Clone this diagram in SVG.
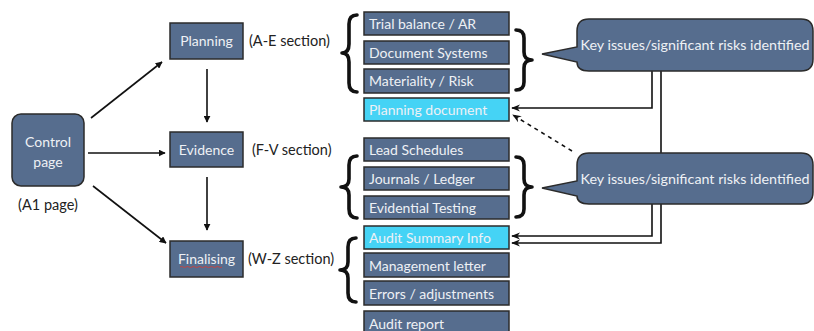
<svg xmlns="http://www.w3.org/2000/svg" width="814" height="331" viewBox="0 0 814 331">
<defs>
<marker id="ah" viewBox="0 0 10 10" refX="9" refY="5" markerWidth="7" markerHeight="7" orient="auto" markerUnits="userSpaceOnUse">
<path d="M0,0 L10,5 L0,10 Z" fill="#111"/>
</marker>
<marker id="ah2" viewBox="0 0 10 10" refX="9" refY="5" markerWidth="9" markerHeight="9" orient="auto" markerUnits="userSpaceOnUse">
<path d="M0,1 L10,5 L0,9 L3,5 Z" fill="#111"/>
</marker>
</defs>
<style>
.box{fill:#566d8e;stroke:#2b2b2b;stroke-width:1.5}
.hl{fill:#45d3f5;stroke:#2b2b2b;stroke-width:1.5}
.t{font-family:Lato,"Open Sans",sans-serif;fill:#eef1f5;font-size:14px}
.tl{font-family:Lato,"Open Sans",sans-serif;fill:#eef1f5;font-size:14px}
.co{font-family:Lato,"Open Sans",sans-serif;fill:#eef1f5;font-size:14.3px}
.lab{font-family:Lato,"Open Sans",sans-serif;fill:#222;font-size:14.5px}
.brace{fill:none;stroke:#111;stroke-width:3.6;stroke-linecap:round;stroke-linejoin:round}
.c{fill:none;stroke:#111;stroke-width:1.6}
</style>
<rect width="814" height="331" fill="#fff"/>

<g id="connectors">
<line class="c" x1="91" y1="118" x2="162" y2="62" marker-end="url(#ah)"/>
<line class="c" x1="88" y1="153" x2="165" y2="153" marker-end="url(#ah)"/>
<line class="c" x1="93" y1="186" x2="166" y2="243" marker-end="url(#ah)"/>
<line class="c" x1="207" y1="69" x2="207" y2="122" marker-end="url(#ah)"/>
<line class="c" x1="207" y1="177" x2="207" y2="230" marker-end="url(#ah)"/>
<polyline class="c" points="652,71 652,108 512,108" marker-end="url(#ah2)"/>
<polyline class="c" points="661,71 661,243 512,243" marker-end="url(#ah2)"/>
<polyline class="c" points="652,204 652,236 512,236" marker-end="url(#ah2)"/>
<line class="c" x1="572" y1="151" x2="513" y2="115" stroke-dasharray="4,4" marker-end="url(#ah2)"/>
</g>

<g id="control">
<rect class="box" x="12" y="114" width="72" height="72" rx="9"/>
<text class="t" x="48" y="147" text-anchor="middle" font-size="16.5">Control</text>
<text class="t" x="48" y="167" text-anchor="middle" font-size="16.5">page</text>
<text class="lab" x="48" y="210" text-anchor="middle">(A1 page)</text>
</g>

<g id="planning">
<rect class="box" x="170" y="23" width="73" height="36"/>
<text class="t" x="206.5" y="46" text-anchor="middle">Planning</text>
<text class="lab" x="249" y="46">(A-E section)</text>
</g>
<g id="evidence">
<rect class="box" x="170" y="132" width="73" height="35"/>
<text class="t" x="206.5" y="155" text-anchor="middle">Evidence</text>
<text class="lab" x="252" y="155">(F-V section)</text>
</g>
<g id="finalising">
<rect class="box" x="170" y="241" width="73" height="36"/>
<text class="t" x="206.5" y="264" text-anchor="middle">Finalising</text>
<path d="M180,267 q1.5,-1 3,0 t3,0 t3,0 t3,0 t3,0 t3,0 t3,0 t3,0 t3,0 t3,0 t3,0 t3,0 t3,0 t3,0" fill="none" stroke="#d0403a" stroke-width="0.9"/>
<text class="lab" x="248" y="264">(W-Z section)</text>
</g>

<g id="braces">
<path class="brace" d="M357,15 Q349,15 349,24 L349,44 Q349,53 342,53 Q349,53 349,62 L349,83 Q349,92 357,92"/>
<path class="brace" d="M516,30 Q524,30 524,38 L524,52 Q524,60 532,60 Q524,60 524,68 L524,82 Q524,90 516,90"/>
<path class="brace" d="M357,156 Q349,156 349,165 L349,179 Q349,187 341,187 Q349,187 349,195 L349,209 Q349,218 357,218"/>
<path class="brace" d="M516,157 Q524,157 524,165 L524,179 Q524,187 532,187 Q524,187 524,195 L524,209 Q524,217 516,217"/>
<path class="brace" d="M356,238 Q348,238 348,247 L348,262 Q348,270 340,270 Q348,270 348,278 L348,293 Q348,302 356,302"/>
</g>

<g id="trial">
<rect class="box" x="364" y="12" width="145" height="23"/>
<text class="tl" x="369" y="29">Trial balance / AR</text>
</g>
<g id="docsys">
<rect class="box" x="364" y="41" width="145" height="23"/>
<text class="tl" x="369" y="58">Document Systems</text>
</g>
<g id="materiality">
<rect class="box" x="364" y="69" width="145" height="24"/>
<text class="tl" x="369" y="86">Materiality / Risk</text>
</g>
<g id="plandoc">
<rect class="hl" x="364" y="98" width="145" height="23"/>
<text class="tl" x="369" y="115">Planning document</text>
</g>
<g id="lead">
<rect class="box" x="364" y="138" width="145" height="23"/>
<text class="tl" x="369" y="155">Lead Schedules</text>
</g>
<g id="journals">
<rect class="box" x="364" y="167" width="145" height="23"/>
<text class="tl" x="369" y="184">Journals / Ledger</text>
</g>
<g id="evidential">
<rect class="box" x="364" y="196" width="145" height="23"/>
<text class="tl" x="369" y="213">Evidential Testing</text>
</g>
<g id="auditsummary">
<rect class="hl" x="364" y="226" width="145" height="23"/>
<text class="tl" x="369" y="243">Audit Summary Info</text>
</g>
<g id="mgmt">
<rect class="box" x="364" y="253" width="145" height="24"/>
<text class="tl" x="369" y="271">Management letter</text>
</g>
<g id="errors">
<rect class="box" x="364" y="281" width="145" height="24"/>
<text class="tl" x="369" y="299">Errors / adjustments</text>
</g>
<g id="auditreport">
<rect class="box" x="364" y="311" width="145" height="24"/>
<text class="tl" x="369" y="329">Audit report</text>
</g>

<g id="callout1">
<path class="box" d="M589,19 H801 Q813,19 813,31 V59 Q813,71 801,71 H589 Q577,71 577,62 L542,54 L577,47 V31 Q577,19 589,19 Z"/>
<text class="co" x="695" y="50" text-anchor="middle">Key issues/significant risks identified</text>
</g>
<g id="callout2">
<path class="box" d="M589,153 H801 Q813,153 813,165 V192 Q813,204 801,204 H589 Q577,204 577,196 L542,188 L577,181 V165 Q577,153 589,153 Z"/>
<text class="co" x="695" y="184" text-anchor="middle">Key issues/significant risks identified</text>
</g>
</svg>
